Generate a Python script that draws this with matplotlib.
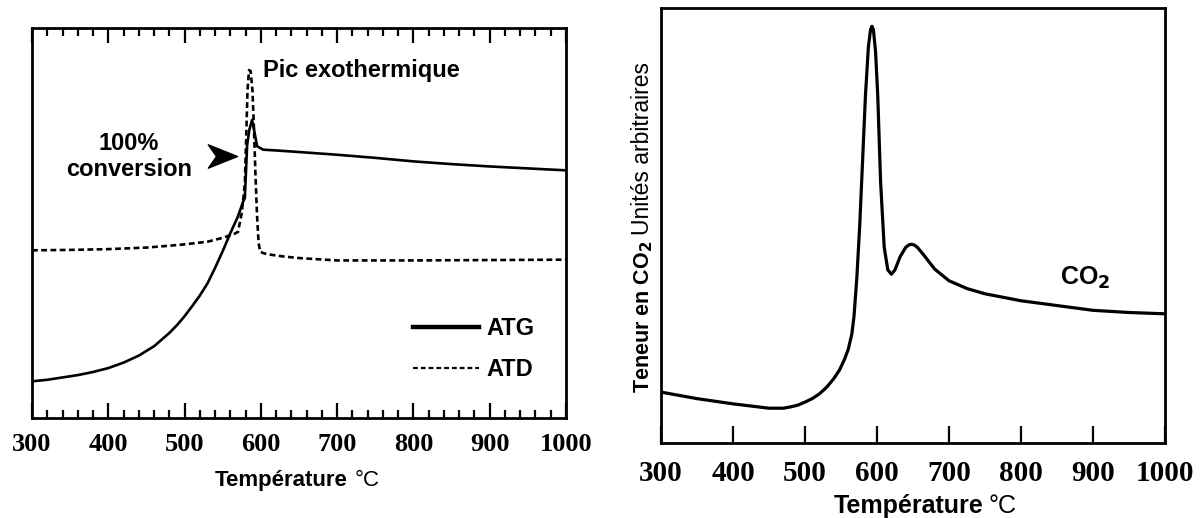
import numpy as np
import matplotlib
matplotlib.use("Agg")
import matplotlib.pyplot as plt
from matplotlib.path import Path
from matplotlib.lines import Line2D

plt.rcParams['font.family'] = ['Liberation Sans', 'DejaVu Sans']

# ---- left panel: ATG / ATD (arbitrary units, 0..1 of the frame) ----
temp_atg = [300, 320, 340, 360, 380, 400, 420, 440, 460, 480, 490, 500, 510, 520, 530,
            540, 550, 560, 570, 577, 579, 582, 585, 588.5, 591, 595, 603, 620, 650,
            700, 750, 800, 850, 900, 950, 1000]
atg = [0.094, 0.098, 0.104, 0.110, 0.118, 0.128, 0.142, 0.160, 0.184, 0.218, 0.238,
       0.261, 0.287, 0.314, 0.345, 0.385, 0.428, 0.474, 0.517, 0.556, 0.564, 0.700,
       0.740, 0.764, 0.740, 0.697, 0.688, 0.686, 0.682, 0.675, 0.667, 0.658, 0.651,
       0.645, 0.640, 0.635]

temp_atd = [300, 350, 400, 450, 494, 530, 550, 565, 570, 575, 579, 580.5, 582.5,
            584.5, 586.5, 589, 591, 593, 595, 597, 599, 603, 608, 630, 651, 700,
            800, 900, 1000]
atd = [0.430, 0.431, 0.433, 0.437, 0.444, 0.452, 0.462, 0.472, 0.477, 0.526, 0.600,
       0.700, 0.840, 0.892, 0.890, 0.840, 0.740, 0.620, 0.520, 0.450, 0.426, 0.423,
       0.420, 0.414, 0.410, 0.404, 0.404, 0.405, 0.406]

# ---- right panel: CO2 ----
temp_co2 = [300, 350, 400, 450, 470, 480, 490, 500, 510, 520, 530, 540, 548, 555, 560,
            565, 568, 572, 576, 580, 584, 588, 591, 593, 595, 598, 601, 605, 610, 615,
            620, 625, 632, 640, 644, 648, 652, 656, 665, 680, 700, 725, 750, 800, 850,
            900, 950, 1000]
co2 = [0.117, 0.102, 0.090, 0.080, 0.080, 0.083, 0.087, 0.094, 0.102, 0.113, 0.128,
       0.148, 0.168, 0.193, 0.215, 0.250, 0.290, 0.380, 0.500, 0.650, 0.800, 0.910,
       0.950, 0.958, 0.950, 0.900, 0.800, 0.600, 0.450, 0.398, 0.388, 0.398, 0.428,
       0.450, 0.455, 0.457, 0.455, 0.450, 0.432, 0.400, 0.373, 0.355, 0.343, 0.327,
       0.316, 0.305, 0.300, 0.297]

major_ticks = [300, 400, 500, 600, 700, 800, 900, 1000]
minor_ticks_left = [t for t in range(300, 1001, 20) if t % 100]

tick_font = dict(family='Liberation Serif', weight='bold')

fig = plt.figure(figsize=(12.03, 5.18), dpi=100)
ax1 = fig.add_axes([32 / 1203, 1 - 418 / 518, 534 / 1203, 390 / 518])
ax2 = fig.add_axes([661 / 1203, 1 - 443 / 518, 504 / 1203, 435 / 518])

dash = (0, (2.2, 1.3))

ax1.plot(temp_atg, atg, color='k', lw=1.9, solid_joinstyle='round')
ax1.plot(temp_atd, atd, color='k', lw=1.9, linestyle=dash)

ax2.plot(temp_co2, co2, color='k', lw=2.3, solid_joinstyle='round')

for ax in (ax1, ax2):
    ax.set_xlim(300, 1000)
    ax.set_ylim(0, 1)
    ax.set_yticks([])
    for sp in ax.spines.values():
        sp.set_linewidth(2.0)
    ax.set_xticks(major_ticks)

ax1.set_xticks(minor_ticks_left, minor=True)
ax1.tick_params(axis='x', which='both', direction='in', top=True, bottom=True, width=1.6)
ax1.tick_params(axis='x', which='major', length=11, pad=11)
ax1.tick_params(axis='x', which='minor', length=6)
ax1.set_xticklabels([str(t) for t in major_ticks], fontsize=19, **tick_font)

ax2.tick_params(axis='x', which='major', direction='in', length=12, width=1.6, pad=12)
ax2.set_xticklabels([str(t) for t in major_ticks], fontsize=21, **tick_font)

# annotations, left panel
ax1.text(603, 0.892, "Pic exothermique", fontsize=17, fontweight='bold', ha='left', va='center')
ax1.text(427, 0.705, "100%", fontsize=17, fontweight='bold', ha='center', va='center')
ax1.text(427, 0.637, "conversion", fontsize=17, fontweight='bold', ha='center', va='center')

arrow_head = Path([(0, 0), (-1, 0.4), (-0.72, 0), (-1, -0.4), (0, 0)],
                  [Path.MOVETO, Path.LINETO, Path.LINETO, Path.LINETO, Path.CLOSEPOLY])
ax1.plot([569], [0.671], marker=arrow_head, markersize=42, color='k', linestyle='none')

handles = [Line2D([], [], color='k', lw=3.2), Line2D([], [], color='k', lw=1.6, linestyle=dash)]
ax1.legend(handles, ["ATG", "ATD"], loc='upper left', bbox_to_anchor=(0.714, 0.258),
           frameon=False, prop=dict(size=17, weight='bold'), handlelength=2.8,
           handletextpad=0.3, labelspacing=0.75, borderpad=0, borderaxespad=0)

# right panel label
ax2.text(854, 0.379, "CO$_\\mathbf{2}$", fontsize=18, fontweight='bold', ha='left', va='center')

# x labels (bold word + regular unit)
fig.text(348 / 1203, 1 - 486 / 518, "Température", fontsize=16, fontweight='bold',
         ha='right', va='baseline')
fig.text(355 / 1203, 1 - 486 / 518, "°C", fontsize=16, ha='left', va='baseline')
fig.text(983 / 1203, 1 - 513 / 518, "Température", fontsize=18, fontweight='bold',
         ha='right', va='baseline')
fig.text(989 / 1203, 1 - 513 / 518, "°C", fontsize=18, ha='left', va='baseline')

# y label right panel
fig.text(649 / 1203, 1 - 393 / 518, "Teneur en CO$_\\mathbf{2}$", fontsize=15.5,
         fontweight='bold', rotation=90, rotation_mode='anchor', ha='left', va='baseline')
fig.text(649 / 1203, 1 - 235 / 518, "Unités arbitraires", fontsize=16.5,
         rotation=90, rotation_mode='anchor', ha='left', va='baseline')

fig.savefig("out.png", dpi=100)
